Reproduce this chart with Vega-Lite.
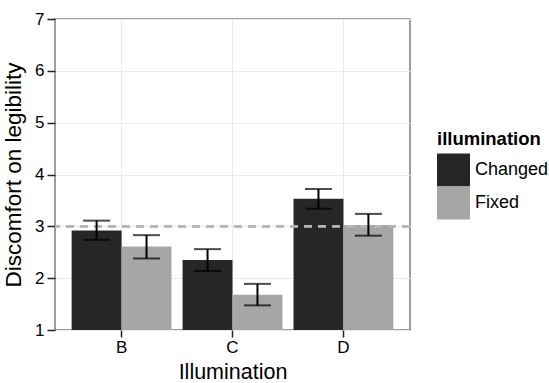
{
  "$schema": "https://vega.github.io/schema/vega-lite/v6.json",
  "width": 355,
  "height": 311,
  "autosize": {"type": "none"},
  "padding": {"left": 55, "top": 19, "right": 139, "bottom": 53},
  "background": "white",
  "config": {
    "font": "Liberation Sans",
    "view": {"stroke": "#7f7f7f", "strokeWidth": 1.5}
  },
  "data": {
    "values": [
      {"Illumination": "B", "illumination": "Changed", "mean": 2.92, "lo": 2.74, "hi": 3.11},
      {"Illumination": "B", "illumination": "Fixed", "mean": 2.61, "lo": 2.38, "hi": 2.83},
      {"Illumination": "C", "illumination": "Changed", "mean": 2.35, "lo": 2.14, "hi": 2.56},
      {"Illumination": "C", "illumination": "Fixed", "mean": 1.68, "lo": 1.475, "hi": 1.89},
      {"Illumination": "D", "illumination": "Changed", "mean": 3.53, "lo": 3.34, "hi": 3.72},
      {"Illumination": "D", "illumination": "Fixed", "mean": 3.025, "lo": 2.82, "hi": 3.24}
    ]
  },
  "layer": [
    {
      "mark": {"type": "bar"},
      "encoding": {
        "x": {
          "field": "Illumination", "type": "nominal",
          "scale": {"paddingInner": 0.1, "paddingOuter": 0.15},
          "axis": {
            "title": "Illumination", "titleFontSize": 21.5, "titleFontWeight": "normal", "titleColor": "black",
            "titleBaseline": "alphabetic", "titleY": 48,
            "labelFontSize": 17, "labelColor": "black", "labelAngle": 0, "labelPadding": 2,
            "tickColor": "#222222", "tickSize": 7, "tickWidth": 1.5,
            "domain": false, "grid": true, "gridColor": "#ebebeb", "gridWidth": 1
          }
        },
        "xOffset": {"field": "illumination", "type": "nominal", "scale": {"paddingInner": 0, "paddingOuter": 0}},
        "y": {
          "field": "mean", "type": "quantitative",
          "scale": {"domain": [1, 7], "nice": false, "zero": false},
          "axis": {
            "title": "Discomfort on legibility", "titleFontSize": 22.5, "titleFontWeight": "normal", "titleColor": "black",
            "titleX": -30,
            "values": [1, 1.5, 2, 2.5, 3, 3.5, 4, 4.5, 5, 5.5, 6, 6.5, 7],
            "labelExpr": "datum.value % 1 === 0 ? datum.label : ''",
            "labelFontSize": 17, "labelColor": "black", "labelPadding": 3,
            "tickColor": "#222222", "tickSize": 8, "tickWidth": 1.5,
            "tickOpacity": {"condition": {"test": "datum.value % 1 !== 0", "value": 0}, "value": 1},
            "domain": false, "grid": true,
            "gridColor": {"condition": {"test": "datum.value % 1 !== 0", "value": "#f7f7f7"}, "value": "#ebebeb"},
            "gridWidth": 1
          }
        },
        "y2": {"datum": 1},
        "fill": {
          "field": "illumination", "type": "nominal",
          "scale": {"domain": ["Changed", "Fixed"], "range": ["#262626", "#a6a6a6"]},
          "legend": {
            "title": "illumination", "titleFontSize": 18.5, "titleFontWeight": "bold", "titleColor": "black",
            "titlePadding": 5,
            "labelFontSize": 18, "labelColor": "black", "labelOffset": 5,
            "symbolType": "square", "symbolSize": 1089, "symbolStrokeWidth": 0, "symbolOpacity": 1,
            "rowPadding": 0, "padding": 0,
            "orient": "none", "legendX": 382, "legendY": 111
          }
        }
      }
    },
    {
      "mark": {"type": "rule", "strokeDash": [8, 6], "color": "#b5b5b5", "strokeWidth": 1.8},
      "encoding": {"y": {"datum": 3}}
    },
    {
      "mark": {"type": "rule", "color": "black", "strokeWidth": 2},
      "encoding": {
        "x": {"field": "Illumination", "type": "nominal"},
        "xOffset": {"field": "illumination", "type": "nominal"},
        "y": {"field": "lo", "type": "quantitative"},
        "y2": {"field": "hi"}
      }
    },
    {
      "mark": {"type": "tick", "color": "black", "thickness": 2, "size": 27},
      "encoding": {
        "x": {"field": "Illumination", "type": "nominal"},
        "xOffset": {"field": "illumination", "type": "nominal"},
        "y": {"field": "hi", "type": "quantitative"}
      }
    },
    {
      "mark": {"type": "tick", "color": "black", "thickness": 2, "size": 27},
      "encoding": {
        "x": {"field": "Illumination", "type": "nominal"},
        "xOffset": {"field": "illumination", "type": "nominal"},
        "y": {"field": "lo", "type": "quantitative"}
      }
    }
  ]
}
